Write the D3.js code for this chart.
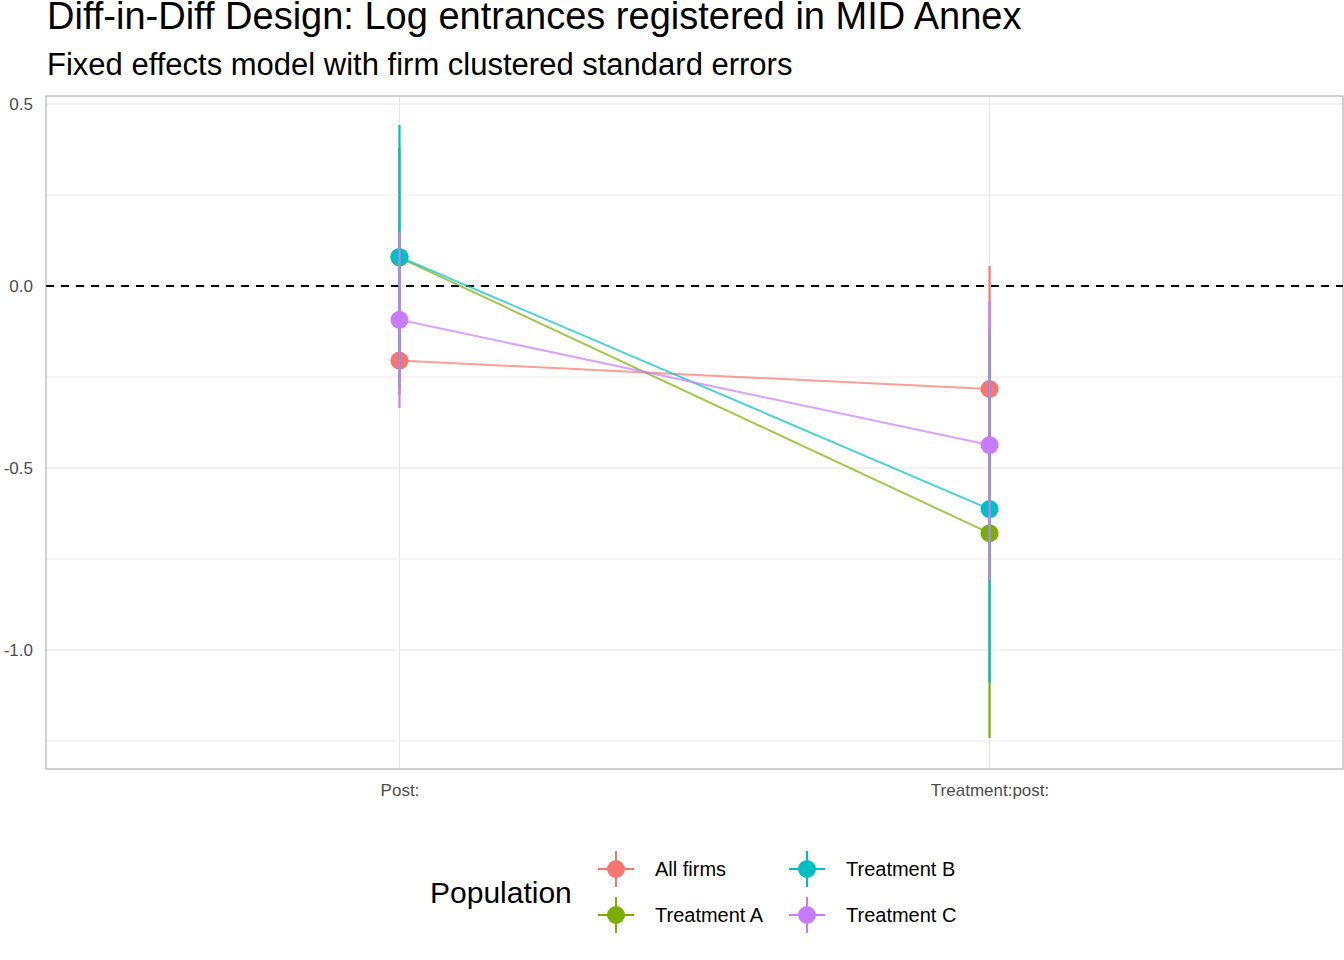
<!DOCTYPE html>
<html><head><meta charset="utf-8">
<script src="https://cdn.jsdelivr.net/npm/d3@7"></script>
<style>body{margin:0;background:#fff}text{font-family:"Liberation Sans",Arial,sans-serif}</style>
</head><body><svg id="chart" width="1344" height="960"></svg>
<script>
const terms = ["Post:", "Treatment:post:"];
const groups = ["All firms", "Treatment A", "Treatment B", "Treatment C"];
const colors = ["#F8766D", "#7CAE00", "#00BFC4", "#C77CFF"];
// estimate, lower, upper per group, per term
const estimate = [[-0.205, -0.283], [0.078, -0.679], [0.080, -0.613], [-0.093, -0.437]];
const lower = [[-0.30, -0.621], [-0.22, -1.242], [-0.28, -1.090], [-0.335, -0.808]];
const upper = [[-0.11, 0.055], [0.38, -0.116], [0.442, -0.136], [0.148, -0.044]];

const svg = d3.select("#chart");
const m = {left: 46, right: 1343, top: 96, bottom: 769};
const x = d3.scalePoint().domain(terms).range([m.left, m.right]).padding(0.599);
const y = d3.scaleLinear().domain([-1.327, 0.522]).range([m.bottom, m.top]);

// grid
const g = svg.append("g");
d3.range(-1.25, 0.51, 0.25).forEach(v => {
  g.append("line").attr("x1", m.left).attr("x2", m.right).attr("y1", y(v)).attr("y2", y(v))
    .attr("stroke", "#e6e6e6").attr("stroke-width", Math.abs(v * 2 % 1) < 1e-6 ? 1.1 : 0.8);
});
terms.forEach(t => g.append("line").attr("x1", x(t)).attr("x2", x(t)).attr("y1", m.top).attr("y2", m.bottom)
  .attr("stroke", "#e6e6e6"));
g.append("rect").attr("x", m.left).attr("y", m.top).attr("width", m.right - m.left).attr("height", m.bottom - m.top)
  .attr("fill", "none").attr("stroke", "#b3b3b3").attr("stroke-width", 1.2);

// axes
const ya = svg.append("g").attr("transform", `translate(${m.left},0)`)
  .call(d3.axisLeft(y).tickValues([-1, -0.5, 0, 0.5]).tickFormat(d => d3.format(".1f")(d).replace("−", "-")).tickSize(0).tickPadding(13));
ya.select(".domain").remove();
ya.selectAll("text").attr("font-size", 17).attr("fill", "#4d4d4d");
const xa = svg.append("g").attr("transform", `translate(0,${m.bottom})`)
  .call(d3.axisBottom(x).tickSize(0).tickPadding(15));
xa.select(".domain").remove();
xa.selectAll("text").attr("font-size", 17).attr("fill", "#4d4d4d");

// zero line
svg.append("line").attr("x1", m.left).attr("x2", m.right).attr("y1", y(0)).attr("y2", y(0))
  .attr("stroke", "#000").attr("stroke-width", 1.8).attr("stroke-dasharray", "8,7");

groups.forEach((grp, i) => {
  const pts = terms.map((t, j) => [x(t), y(estimate[i][j])]);
  svg.append("path").attr("d", d3.line()(pts)).attr("fill", "none")
    .attr("stroke", colors[i]).attr("stroke-width", 2).attr("opacity", 0.7);
});
groups.forEach((grp, i) => {
  terms.forEach((t, j) => {
    svg.append("line").attr("x1", x(t)).attr("x2", x(t))
      .attr("y1", y(lower[i][j])).attr("y2", y(upper[i][j]))
      .attr("stroke", colors[i]).attr("stroke-width", 2.2);
    svg.append("circle").attr("cx", x(t)).attr("cy", y(estimate[i][j])).attr("r", 9).attr("fill", colors[i]);
  });
});

// titles
svg.append("text").attr("x", 47).attr("y", 29).attr("font-size", 38).text("Diff-in-Diff Design: Log entrances registered in MID Annex");
svg.append("text").attr("x", 47).attr("y", 75).attr("font-size", 31).text("Fixed effects model with firm clustered standard errors");

// legend
svg.append("text").attr("x", 430).attr("y", 903).attr("font-size", 30).text("Population");
groups.forEach((grp, i) => {
  const lx = i < 2 ? 616 : 807, ly = i % 2 === 0 ? 869 : 915;
  svg.append("line").attr("x1", lx - 18).attr("x2", lx + 18).attr("y1", ly).attr("y2", ly).attr("stroke", colors[i]).attr("stroke-width", 2);
  svg.append("line").attr("x1", lx).attr("x2", lx).attr("y1", ly - 18).attr("y2", ly + 18).attr("stroke", colors[i]).attr("stroke-width", 2);
  svg.append("circle").attr("cx", lx).attr("cy", ly).attr("r", 9).attr("fill", colors[i]);
  svg.append("text").attr("x", lx + 39).attr("y", ly + 7).attr("font-size", 20).text(grp);
});
</script></body></html>
